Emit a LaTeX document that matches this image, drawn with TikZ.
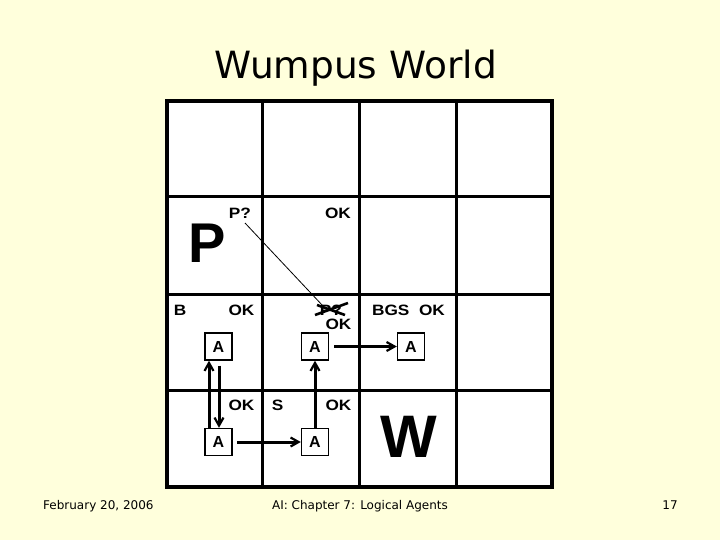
\documentclass[tikz,border=0pt]{standalone}
\usepackage{fontspec}
\setmainfont{Liberation Sans}
\newfontfamily\slidefont{DejaVu Sans}
\usetikzlibrary{arrows.meta}
\definecolor{slidebg}{HTML}{FFFFDC}
\begin{document}
\begin{tikzpicture}[x=1pt,y=-1pt,
  lbl/.style={font=\fontsize{15}{15}\selectfont\bfseries, inner sep=0pt, xscale=1.15},
  big/.style={inner sep=0pt},
  agent/.style={draw, line width=1.4pt, minimum width=27pt, minimum height=27pt, inner sep=0pt,
                font=\fontsize{16}{16}\selectfont\bfseries, fill=white},
  move/.style={line width=3pt, -{Straight Barb[length=8pt,width=9pt,line width=2.2pt]}},
  gridthin/.style={line width=3pt},
  gridthick/.style={line width=4.5pt},
]
\useasboundingbox[fill=slidebg] (0,0) rectangle (720,540);

% title and footer
\node[font=\slidefont\fontsize{37.5}{37.5}\selectfont, anchor=base, inner sep=0pt] (title) at (355.5,79) {Wumpus World};
\node[font=\slidefont\fontsize{12}{12}\selectfont, anchor=base west, inner sep=0pt] (date) at (43,509) {February 20, 2006};
\node[font=\slidefont\fontsize{12}{12}\selectfont, anchor=base, inner sep=0pt] (chap) at (360,509) {AI: Chapter 7: Logical Agents};
\node[font=\slidefont\fontsize{12}{12}\selectfont, anchor=base, inner sep=0pt] (page) at (670,509) {17};

% grid
\fill[white] (167,101) rectangle (552,487);
\foreach \gx in {262,359,456} \draw[gridthin] (\gx,101) -- (\gx,487);
\foreach \gy in {197,294,390} \draw[gridthin] (167,\gy) -- (552,\gy);
\draw[gridthick] (167,101) rectangle (552,487);

% row 2
\node[lbl] (pq1) at (240,213) {P?};
\node[lbl] (ok12) at (338,213) {OK};
\node[big, font=\fontsize{56}{56}\selectfont\bfseries] (pit) at (207.5,243) {P};

% row 3
\node[lbl] (breeze) at (180,310.5) {B};
\node[lbl] (ok21) at (241.5,310.5) {OK};
\node[lbl] (pq2) at (331,310) {P?};
\node[lbl] (ok22) at (338.5,324.5) {OK};
\node[lbl] (bgs) at (408.5,310.5) {BGS\ \ OK};

% row 4
\node[lbl] (ok31) at (241.5,405.5) {OK};
\node[lbl] (stench) at (277.5,405) {S};
\node[lbl] (ok32) at (338.5,405.5) {OK};
\node[big, font=\fontsize{60}{60}\selectfont\bfseries] (wumpus) at (409,436.5) {W};

% crossed-out P?
\draw[line width=2.6pt] ([shift={(-16,5)}]pq2.center) -- ([shift={(17,-7)}]pq2.center);
\draw[line width=2.6pt] ([shift={(-14,-5)}]pq2.center) -- ([shift={(14,5)}]pq2.center);

% reasoning line
\draw[line width=0.8pt] ([shift={(5,10)}]pq1.center) -- ([shift={(-8,-4)}]pq2.center);

% agents
\node[agent] (a21) at (218.5,346.5) {A};
\node[agent] (a22) at (315,346.5) {A};
\node[agent] (a23) at (411,346.5) {A};
\node[agent] (a31) at (218.5,442) {A};
\node[agent] (a32) at (315,442) {A};

% moves
\draw[move] ([xshift=-9.5pt]a31.north) -- ([xshift=-9.5pt]a21.south);
\draw[move, shorten <=5pt] ([xshift=0.5pt]a21.south) -- ([xshift=0.5pt]a31.north);
\draw[move, shorten <=4.5pt] (a31.east) -- (a32.west);
\draw[move] (a32.north) -- (a22.south);
\draw[move, shorten <=5pt] (a22.east) -- (a23.west);
\end{tikzpicture}
\end{document}
